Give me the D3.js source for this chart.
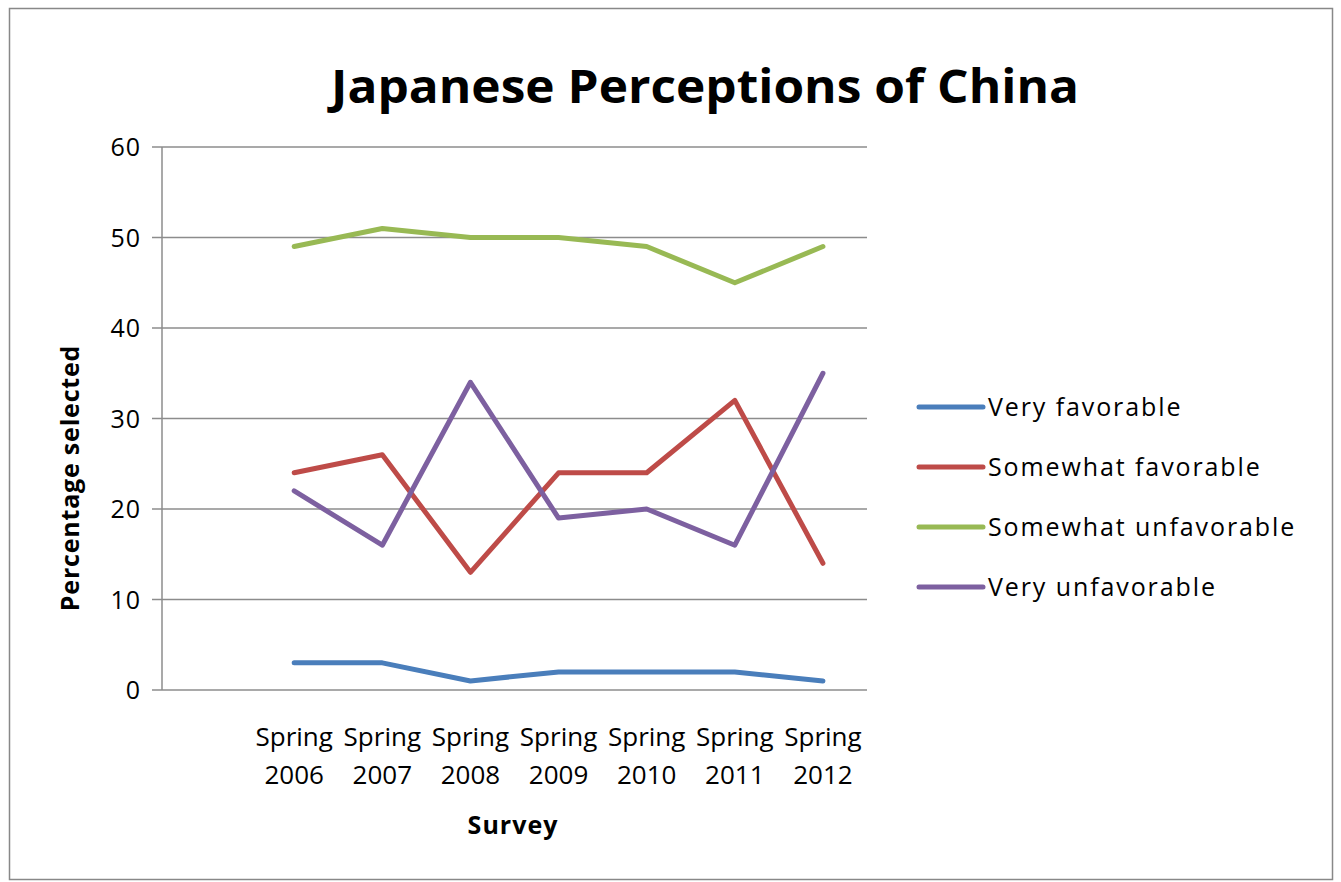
<!DOCTYPE html>
<html><head><meta charset="utf-8">
<script src="https://cdn.jsdelivr.net/npm/d3@7"></script>
<style>body{margin:0;background:#fff;} text{font-family:"Open Sans","Noto Sans",sans-serif;fill:#000;}</style>
</head><body>
<svg id="c" width="1341" height="882"></svg>
<script>
const categories = ["", "Spring 2006", "Spring 2007", "Spring 2008", "Spring 2009", "Spring 2010", "Spring 2011", "Spring 2012"];
const seriesNames = ["Very favorable", "Somewhat favorable", "Somewhat unfavorable", "Very unfavorable"];
const veryFavorable = [null, 3, 3, 1, 2, 2, 2, 1];
const somewhatFavorable = [null, 24, 26, 13, 24, 24, 32, 14];
const somewhatUnfavorable = [null, 49, 51, 50, 50, 49, 45, 49];
const veryUnfavorable = [null, 22, 16, 34, 19, 20, 16, 35];
const yTicks = [0, 10, 20, 30, 40, 50, 60];
const colors = ["#4a7ebb", "#be4b48", "#98b954", "#7d60a0"];

const series = [veryFavorable, somewhatFavorable, somewhatUnfavorable, veryUnfavorable];
const svg = d3.select("#c");

svg.append("rect").attr("x", 9.5).attr("y", 8.5).attr("width", 1323).attr("height", 871)
  .attr("fill", "#fff").attr("stroke", "#888").attr("stroke-width", 1.5);

const plot = {left: 162, right: 867, top: 147, bottom: 690};
const x = d3.scaleBand().domain(categories).range([plot.left, plot.right]);
const y = d3.scaleLinear().domain([0, 60]).range([plot.bottom, plot.top]);

// gridlines
svg.append("g").selectAll("line").data(yTicks).join("line")
  .attr("x1", plot.left - 10).attr("x2", plot.right)
  .attr("y1", d => y(d)).attr("y2", d => y(d))
  .attr("stroke", "#8c8c8c").attr("stroke-width", 1.5);

// y axis line
svg.append("line").attr("x1", plot.left).attr("x2", plot.left)
  .attr("y1", plot.top).attr("y2", plot.bottom).attr("stroke", "#8c8c8c").attr("stroke-width", 1.5);

// y tick labels
svg.append("g").selectAll("text").data(yTicks).join("text")
  .attr("x", 141).attr("y", d => y(d)).attr("dy", "0.36em")
  .attr("text-anchor", "end").attr("font-size", 25).attr("letter-spacing", 1).text(d => d);

// x labels
const xl = svg.append("g").selectAll("text").data(categories.filter(c => c)).join("text")
  .attr("text-anchor", "middle").attr("font-size", 26);
xl.append("tspan").attr("x", d => x(d) + x.bandwidth() / 2).attr("y", 746).text(d => d.split(" ")[0]);
xl.append("tspan").attr("x", d => x(d) + x.bandwidth() / 2).attr("y", 784).text(d => d.split(" ")[1]);

// axis titles
svg.append("text").attr("x", 513).attr("y", 834).attr("text-anchor", "middle")
  .attr("font-size", 25).attr("font-weight", "bold").attr("letter-spacing", 1).text("Survey");
svg.append("text").attr("transform", "translate(79,478) rotate(-90)").attr("text-anchor", "middle")
  .attr("font-size", 25).attr("font-weight", "bold").attr("letter-spacing", 0.8).text("Percentage selected");

// title
svg.append("text").attr("x", 705).attr("y", 103).attr("text-anchor", "middle")
  .attr("font-size", 46).attr("font-weight", "bold").attr("textLength", 748).attr("lengthAdjust", "spacingAndGlyphs")
  .text("Japanese Perceptions of China");

// lines
const line = d3.line().defined(d => d.v != null)
  .x(d => x(d.c) + x.bandwidth() / 2).y(d => y(d.v));
series.forEach((s, i) => {
  svg.append("path").datum(categories.map((c, j) => ({c, v: s[j]})))
    .attr("d", line).attr("fill", "none").attr("stroke", colors[i])
    .attr("stroke-width", 5).attr("stroke-linejoin", "round").attr("stroke-linecap", "round");
});

// legend
const lg = svg.append("g").selectAll("g").data(seriesNames).join("g")
  .attr("transform", (d, i) => `translate(0,${407 + i * 60})`);
lg.append("line").attr("x1", 919).attr("x2", 983).attr("y1", 0).attr("y2", 0)
  .attr("stroke", (d, i) => colors[i]).attr("stroke-width", 5).attr("stroke-linecap", "round");
lg.append("text").attr("x", 988).attr("y", 0).attr("dy", "0.36em").attr("font-size", 25)
  .attr("letter-spacing", 1.9).text(d => d);
</script>
</body></html>
